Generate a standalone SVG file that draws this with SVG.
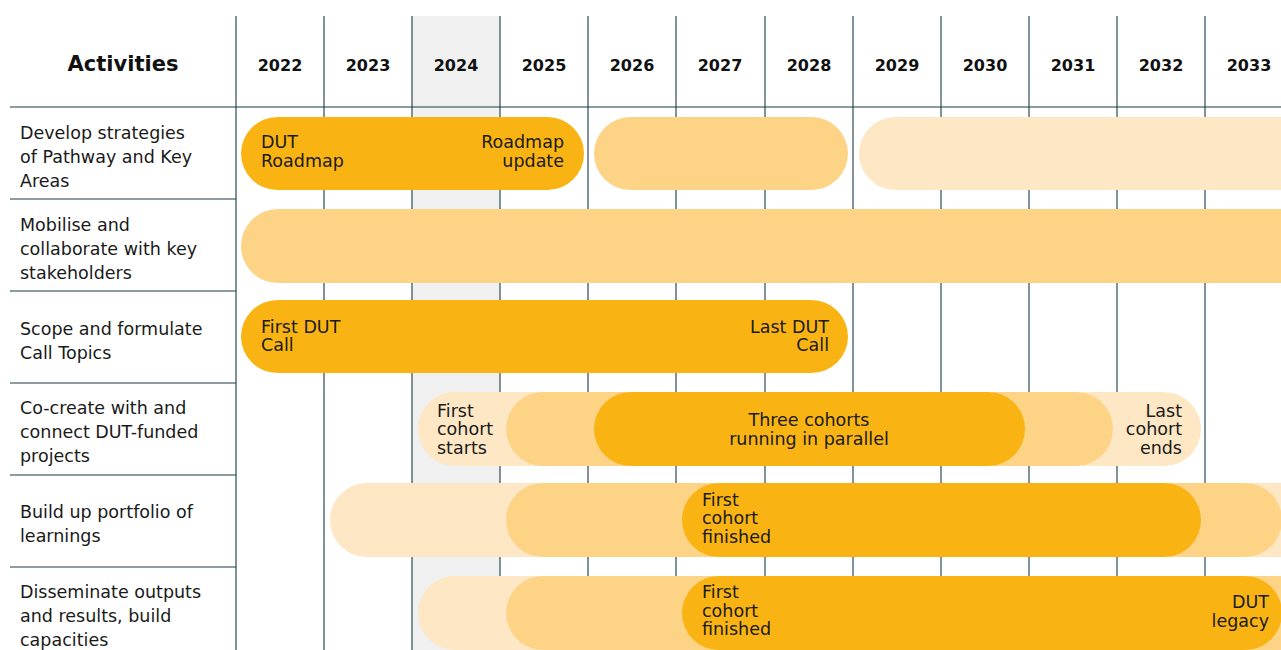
<svg xmlns="http://www.w3.org/2000/svg" width="1281" height="650" viewBox="0 0 1281 650">
<style>
.hdr{font-family:"DejaVu Sans","Liberation Sans",sans-serif;font-weight:700;fill:#111;}
.yr{font-size:16px;text-anchor:middle;}
.lbl{font-family:"DejaVu Sans","Liberation Sans",sans-serif;font-size:17.5px;fill:#1a1a1a;}
.bt{font-family:"DejaVu Sans","Liberation Sans",sans-serif;font-size:17.5px;fill:#1a1a1a;}
.vl{stroke:#2b4a54;stroke-width:1.2;}
.hl{stroke:#1d3b45;stroke-width:1.2;}
.c1{fill:#f9b413;}
.c2{fill:#fdd386;}
.c3{fill:#fee7c4;}
.r{text-anchor:end;}
.m{text-anchor:middle;}
</style>
<rect width="1281" height="650" fill="#ffffff"/>
<g id="grid">
<rect x="412" y="16" width="88" height="634" fill="#f0f0f0"/>
<line class="vl" x1="236" y1="16" x2="236" y2="650"/>
<line class="vl" x1="324" y1="16" x2="324" y2="650"/>
<line class="vl" x1="412" y1="16" x2="412" y2="650"/>
<line class="vl" x1="500" y1="16" x2="500" y2="650"/>
<line class="vl" x1="588" y1="16" x2="588" y2="650"/>
<line class="vl" x1="676" y1="16" x2="676" y2="650"/>
<line class="vl" x1="765" y1="16" x2="765" y2="650"/>
<line class="vl" x1="853" y1="16" x2="853" y2="650"/>
<line class="vl" x1="941" y1="16" x2="941" y2="650"/>
<line class="vl" x1="1029" y1="16" x2="1029" y2="650"/>
<line class="vl" x1="1117" y1="16" x2="1117" y2="650"/>
<line class="vl" x1="1205" y1="16" x2="1205" y2="650"/>
<line class="hl" x1="10" y1="107" x2="1281" y2="107"/>
<line class="hl" x1="10" y1="199" x2="236" y2="199"/>
<line class="hl" x1="10" y1="291" x2="236" y2="291"/>
<line class="hl" x1="10" y1="383" x2="236" y2="383"/>
<line class="hl" x1="10" y1="475" x2="236" y2="475"/>
<line class="hl" x1="10" y1="567" x2="236" y2="567"/>
</g>
<g id="header">
<text class="hdr" x="123" y="71" font-size="21" text-anchor="middle">Activities</text>
<text class="hdr yr" x="280" y="71">2022</text>
<text class="hdr yr" x="368" y="71">2023</text>
<text class="hdr yr" x="456" y="71">2024</text>
<text class="hdr yr" x="544" y="71">2025</text>
<text class="hdr yr" x="632" y="71">2026</text>
<text class="hdr yr" x="720" y="71">2027</text>
<text class="hdr yr" x="809" y="71">2028</text>
<text class="hdr yr" x="897" y="71">2029</text>
<text class="hdr yr" x="985" y="71">2030</text>
<text class="hdr yr" x="1073" y="71">2031</text>
<text class="hdr yr" x="1161" y="71">2032</text>
<text class="hdr yr" x="1249" y="71">2033</text>
</g>
<g id="labels">
<text class="lbl" x="20" y="139">Develop strategies</text>
<text class="lbl" x="20" y="163">of Pathway and Key</text>
<text class="lbl" x="20" y="187">Areas</text>
<text class="lbl" x="20" y="231">Mobilise and</text>
<text class="lbl" x="20" y="255">collaborate with key</text>
<text class="lbl" x="20" y="279">stakeholders</text>
<text class="lbl" x="20" y="335">Scope and formulate</text>
<text class="lbl" x="20" y="359">Call Topics</text>
<text class="lbl" x="20" y="414">Co-create with and</text>
<text class="lbl" x="20" y="438">connect DUT-funded</text>
<text class="lbl" x="20" y="462">projects</text>
<text class="lbl" x="20" y="518">Build up portfolio of</text>
<text class="lbl" x="20" y="542">learnings</text>
<text class="lbl" x="20" y="598">Disseminate outputs</text>
<text class="lbl" x="20" y="622">and results, build</text>
<text class="lbl" x="20" y="646">capacities</text>
</g>
<g id="row1">
<rect class="c1" x="241" y="117" width="343" height="73" rx="36.5"/>
<rect class="c2" x="594" y="117" width="254" height="73" rx="36.5"/>
<rect class="c3" x="859" y="117" width="480" height="73" rx="36.5"/>
<text class="bt" x="261" y="148">DUT</text>
<text class="bt" x="261" y="167">Roadmap</text>
<text class="bt r" x="564" y="148">Roadmap</text>
<text class="bt r" x="564" y="167">update</text>
</g>
<g id="row2">
<rect class="c2" x="241" y="209" width="1100" height="74" rx="37"/>
</g>
<g id="row3">
<rect class="c1" x="241" y="300" width="607" height="73" rx="36.5"/>
<text class="bt" x="261" y="333">First DUT</text>
<text class="bt" x="261" y="351">Call</text>
<text class="bt r" x="829" y="333">Last DUT</text>
<text class="bt r" x="829" y="351">Call</text>
</g>
<g id="row4">
<rect class="c3" x="418" y="392" width="783" height="74" rx="37"/>
<rect class="c2" x="506" y="392" width="607" height="74" rx="37"/>
<rect class="c1" x="594" y="392" width="431" height="74" rx="37"/>
<text class="bt" x="437" y="417">First</text>
<text class="bt" x="437" y="435">cohort</text>
<text class="bt" x="437" y="454">starts</text>
<text class="bt m" x="809" y="426">Three cohorts</text>
<text class="bt m" x="809" y="445">running in parallel</text>
<text class="bt r" x="1182" y="417">Last</text>
<text class="bt r" x="1182" y="435">cohort</text>
<text class="bt r" x="1182" y="454">ends</text>
</g>
<g id="row5">
<rect class="c3" x="330" y="483" width="1100" height="74" rx="37"/>
<rect class="c2" x="506" y="483" width="776" height="74" rx="37"/>
<rect class="c1" x="682" y="483" width="519" height="74" rx="37"/>
<text class="bt" x="702" y="506">First</text>
<text class="bt" x="702" y="524">cohort</text>
<text class="bt" x="702" y="543">finished</text>
</g>
<g id="row6">
<rect class="c3" x="418" y="576" width="1000" height="74" rx="37"/>
<rect class="c2" x="506" y="576" width="900" height="74" rx="37"/>
<rect class="c1" x="682" y="576" width="600" height="74" rx="37"/>
<text class="bt" x="702" y="598">First</text>
<text class="bt" x="702" y="617">cohort</text>
<text class="bt" x="702" y="635">finished</text>
<text class="bt r" x="1269" y="608">DUT</text>
<text class="bt r" x="1269" y="627">legacy</text>
</g>
</svg>
